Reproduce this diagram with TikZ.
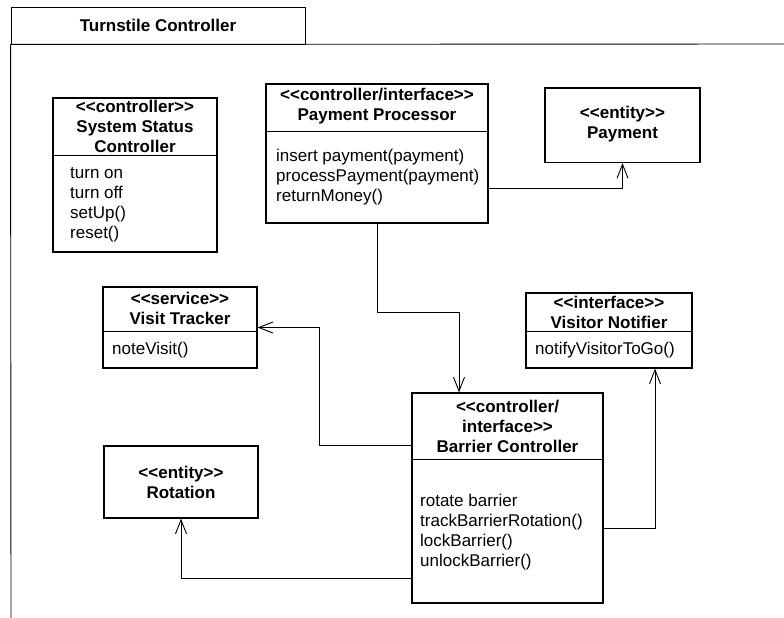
\documentclass[tikz,border=0pt]{standalone}
\usepackage{fontspec}
\newfontfamily\umlfont{Liberation Sans}
\usepackage{tikz}
\usetikzlibrary{arrows.meta,positioning}

\newcommand{\lguil}{<\kern0pt<}
\newcommand{\rguil}{>\kern0pt>}

\begin{document}
\begin{tikzpicture}[x=1pt, y=-1pt,
  font=\umlfont\fontsize{17}{20}\selectfont,
  cls/.style={draw, line width=1.2pt, inner sep=0pt},
  hdr/.style={align=center, inner sep=0pt,
              font=\umlfont\bfseries\fontsize{17}{20}\selectfont},
  ops/.style={align=left, anchor=west, inner sep=0pt},
  sep/.style={line width=1pt},
  arr/.style={-{Straight Barb[length=14pt,width=11pt]}, line width=0.9pt}
]
\useasboundingbox (0,0) rectangle (784,618);

% package frame
\node[draw, line width=0.9pt, minimum width=294pt, minimum height=37pt, inner sep=0pt,
      font=\umlfont\bfseries\fontsize{17}{20}\selectfont] (tab) at (158,25.5) {Turnstile Controller};
\draw[line width=0.9pt] (tab.south west) -- (784,44);
\draw[line width=0.9pt] (tab.south west) -- (11,618);

% classes
\node[cls, minimum width=164pt, minimum height=154pt] (ssc) at (135,175) {};
\node[hdr] (sscH) at (135,126.5) {\lguil controller\rguil\\System Status\\Controller};
\draw[sep] ([yshift=-58pt]ssc.north west) -- ([yshift=-58pt]ssc.north east);
\node[ops] (sscO) at (70,205) {turn on\\turn off\\setUp()\\reset()};

\node[cls, minimum width=222pt, minimum height=139pt] (pp) at (377,153.5) {};
\node[hdr] (ppH) at (377,106.5) {\lguil controller/interface\rguil\\Payment Processor};
\draw[sep] ([yshift=-48pt]pp.north west) -- ([yshift=-48pt]pp.north east);
\node[ops] (ppO) at (276,177) {insert payment(payment)\\processPayment(payment)\\returnMoney()};

\node[cls, minimum width=155pt, minimum height=74.5pt] (pay) at (622.5,125.25) {};
\node[hdr] (payH) at (622.5,124) {\lguil entity\rguil\\Payment};

\node[cls, minimum width=154pt, minimum height=81pt] (vt) at (180,327.5) {};
\node[hdr] (vtH) at (180,308) {\lguil service\rguil\\Visit Tracker};
\draw[sep] ([yshift=-45pt]vt.north west) -- ([yshift=-45pt]vt.north east);
\node[ops] (vtO) at (112,350) {noteVisit()};

\node[cls, minimum width=166pt, minimum height=75pt] (vn) at (609,330.5) {};
\node[hdr] (vnH) at (609,312) {\lguil interface\rguil\\Visitor Notifier};
\draw[sep] ([yshift=-39pt]vn.north west) -- ([yshift=-39pt]vn.north east);
\node[ops] (vnO) at (535,350) {notifyVisitorToGo()};

\node[cls, minimum width=191pt, minimum height=210pt] (bar) at (507.5,498) {};
\node[hdr] (barH) at (507.5,426) {\lguil controller/\\interface\rguil\\Barrier Controller};
\draw[sep] ([yshift=-67pt]bar.north west) -- ([yshift=-67pt]bar.north east);
\node[ops] (barO) at (420,532) {rotate barrier\\trackBarrierRotation()\\lockBarrier()\\unlockBarrier()};

\node[cls, minimum width=154pt, minimum height=72pt] (rot) at (181,482) {};
\node[hdr] (rotH) at (181,482) {\lguil entity\rguil\\Rotation};

% dependencies
\draw[arr] ([yshift=-34.5pt]pp.east) -| (pay.south);
\draw[arr] (pp.south) -- ++(0,89) -| ([xshift=-48.5pt]bar.north);
\draw[arr] ([yshift=53pt]bar.west) -- ++(-92,0) |- (vt.east);
\draw[arr] ([yshift=-30pt]bar.east) -| ([xshift=46pt]vn.south);
\draw[arr] ([yshift=-80pt]bar.west) -| (rot.south);
\end{tikzpicture}
\end{document}
